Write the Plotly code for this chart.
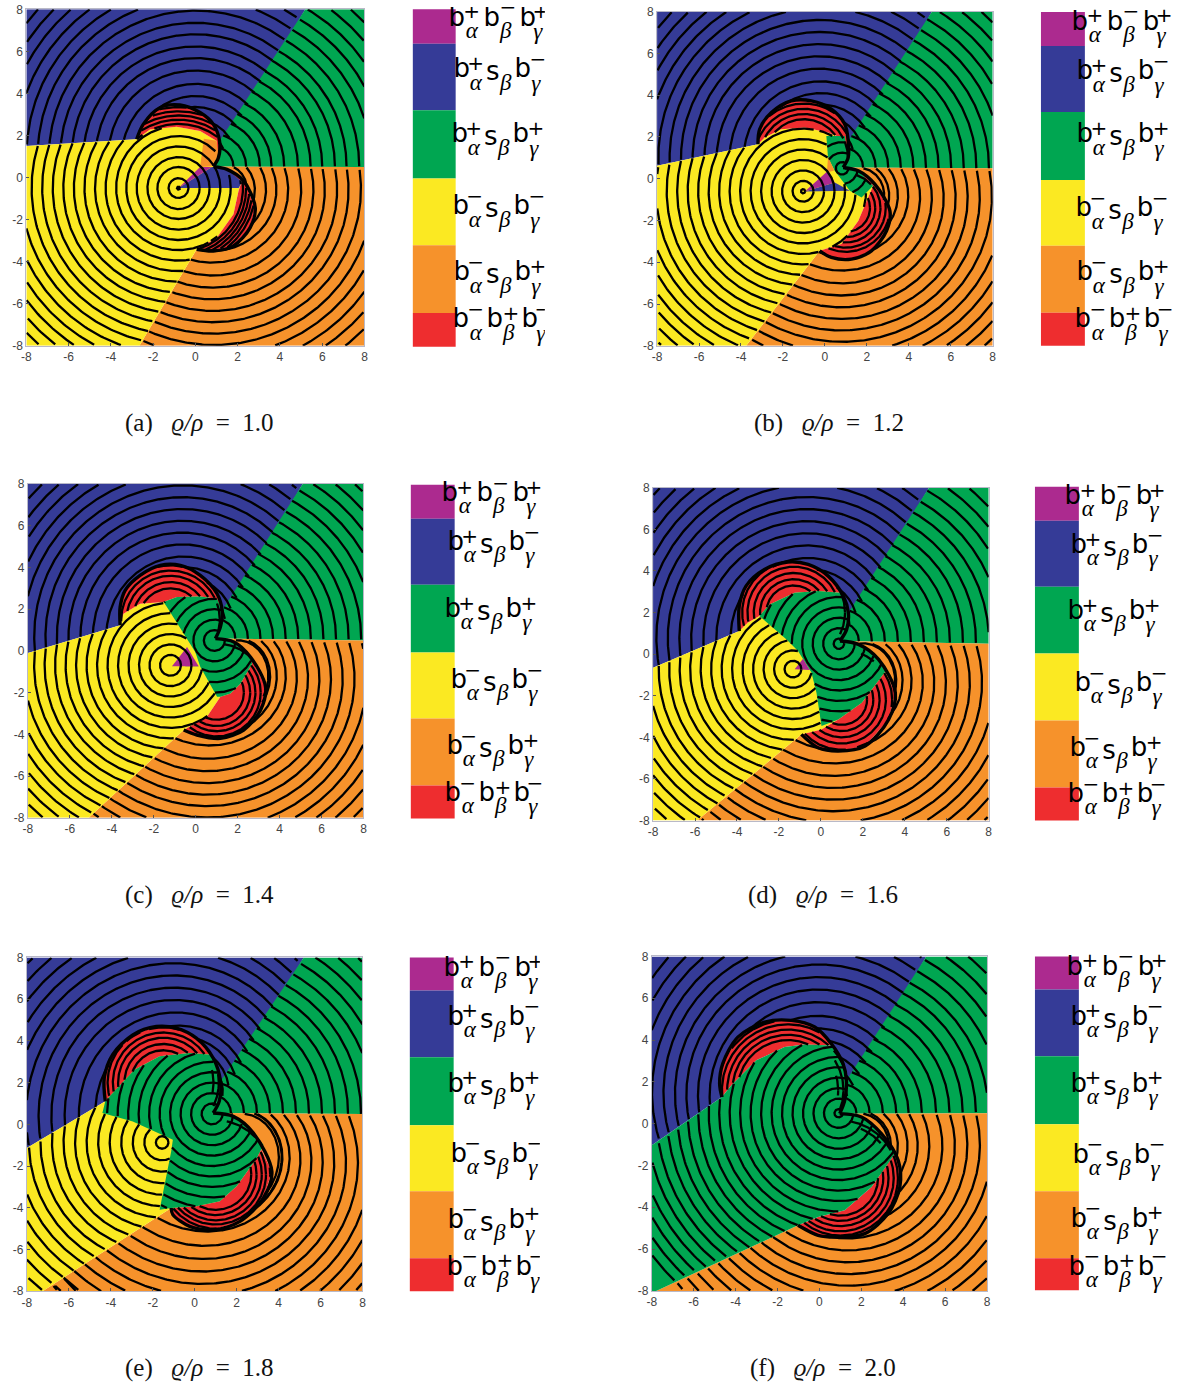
import numpy as np
import plotly.graph_objects as go

W, H = 1186, 1386
TICKS = [-8, -6, -4, -2, 0, 2, 4, 6, 8]
TICK_TEXT = ["-8", "-6", "-4", "-2", "0", "2", "4", "6", "8"]
COLORS = dict(purple="#AC2A8F", blue="#353B97", green="#00A651", yellow="#FBE922", orange="#F6922B", red="#EE2D2F")
BAND_COLORS = ["purple", "blue", "green", "yellow", "orange", "red"]
CAPTIONS = ["(a)", "(b)", "(c)", "(d)", "(e)", "(f)"]
RATIOS = ["1.0", "1.2", "1.4", "1.6", "1.8", "2.0"]
LABEL_KINDS = ["bbb", "sm", "sp", "sm2", "sp2", "bbb2"]

# ---- panel (a) ----
A_CUSP = (0.85, 0.52)
A_TOP_OUT = [(0.85,0.52),(1.09,0.95),(1.14,1.74),(0.85,2.53),(0.22,3.09),(-0.73,3.45),(-1.68,3.32),(-2.47,2.53),(-2.78,1.82)]
A_TOP_IN = [(-2.78,1.82),(-2.15,2.29),(-0.89,2.41),(0.22,2.21),(1.01,1.74)]
A_BOT_OUT = [(0.85,0.52),(1.49,0.39),(2.28,-0.16),(2.83,-1.43),(2.59,-2.38),(1.8,-3.25),(0.85,-3.49),(0.06,-3.41)]
A_BOT_IN = [(0.06,-3.41),(1.01,-2.86),(1.8,-1.75),(2.04,-0.64),(2.2,-0.16)]
A_GREEN_IN = []
A_LEFT_Y, A_DIAG_X, A_BOTTOM_X = 1.5, 5.2, -2.65
A_FAR_C = (-0.8, -0.5)
A_FAR_R = [0.07,0.47,1.0,1.47,1.98,2.47,2.95,3.45,3.95,4.45,4.95,5.45,5.95,6.45,6.95,7.45,7.95,8.45,8.95,9.45,9.95,10.45,10.95]
A_OUT_R = [0.95,1.55,2.2,2.75,3.35,4.0,4.6,5.15,5.75,6.3,6.9,7.5,8.1,8.7,9.3,9.9,10.5,11.1,11.7]
A_BLUE_C, A_ORANGE_C = (-0.1, 0.9), (1.1, -0.3)
A_SHIFT = (3, 3)
A_CAPT = (-0.8, -0.5, [3.05,3.25,3.45,3.65,3.85])
A_CAPB = (-0.8, -0.5, [3.05,3.2,3.35,3.5,3.65])
A_PURPLE = [(-0.8,-0.5),(0.22,0.5),(0.78,0.5)]
A_TRI = [(-0.8,-0.5),(0.78,0.5),(1.0,0.5),(1.5,0.4),(2.2,-0.2),(2.05,-0.5)]
A_WEDGE = [(0.22,0.5),(0.95,0.55),(1.1,1.0),(1.0,1.75),(0.4,1.85)]
A_INNER_R = []

# ---- panel (b) ----
B_CUSP = (0.87, 0.54)
B_TOP_OUT = [(0.87,0.54),(1.11,1.01),(1.11,1.81),(0.95,2.61),(0.31,3.33),(-0.64,3.73),(-1.6,3.73),(-2.55,3.17),(-3.11,2.37),(-3.19,1.65)]
B_TOP_IN = [(-3.19,1.65),(-2.87,1.97),(-2.08,2.37),(-0.96,2.45),(0.15,2.21),(0.95,1.89)]
B_BOT_OUT = [(0.87,0.54),(1.59,0.38),(2.38,-0.26),(3.1,-1.54),(2.94,-2.49),(2.22,-3.45),(1.27,-3.85),(0.31,-3.77),(-0.25,-3.45)]
B_BOT_IN = [(-0.25,-3.45),(0.79,-3.13),(1.59,-2.02),(2.06,-0.9),(2.3,-0.34)]
B_GREEN_IN = [(0.07,2.05),(0.95,2.05),(1.11,0.85),(0.87,0.54),(1.59,0.38),(2.3,-0.34),(1.75,-0.9),(1.19,-0.58),(0.47,0.38),(0.15,1.01)]
B_LEFT_Y, B_DIAG_X, B_BOTTOM_X = 0.62, 5.1, -3.75
B_FAR_C = (-1.04, -0.6)
B_FAR_R = [0.1,0.5,1.0,1.5,2.0,2.5,3.0,3.5,4.0,4.5,5.0,5.5,6.0,6.5,7.0,7.5,8.0,8.5,9.0,9.5,10.0,10.5]
B_OUT_R = [0.95,1.55,2.15,2.75,3.35,3.95,4.55,5.15,5.75,6.35,6.95,7.55,8.15,8.75,9.35,9.95,10.55,11.15,11.75]
B_BLUE_C, B_ORANGE_C = (-0.2, 1.0), (1.3, -0.4)
B_SHIFT = (3, 3)
B_CAPT = (-1.0, 1.0, [1.85,2.1,2.35,2.6,2.8])
B_CAPB = (1.0, -1.4, [1.15,1.4,1.65,1.9,2.1])
B_PURPLE = [(-0.96,-0.61),(0.15,0.38),(0.47,-0.18)]
B_TRI = [(-0.96,-0.61),(0.47,-0.18),(1.19,-0.58)]
B_WEDGE = [(0.15,1.05),(0.45,0.4),(0.1,0.3)]
B_INNER_R = [0.3,0.75,1.25,1.75,2.25]

# ---- panel (c) ----
C_CUSP = (0.94, 0.59)
C_TOP_OUT = [(0.94,0.59),(1.18,1.15),(1.26,1.94),(1.02,2.74),(0.22,3.62),(-0.73,4.1),(-1.69,4.1),(-2.65,3.62),(-3.36,2.9),(-3.6,2.1),(-3.6,1.23)]
C_TOP_IN = [(-3.6,1.23),(-3.44,1.78),(-2.65,2.26),(-1.53,2.34),(-0.89,2.58),(0.22,2.61),(1.02,2.5)]
C_BOT_OUT = [(0.94,0.59),(1.82,0.43),(2.61,-0.29),(3.33,-1.72),(3.09,-2.84),(2.29,-3.79),(1.18,-4.19),(0.06,-4.03),(-0.57,-3.79)]
C_BOT_IN = [(-0.57,-3.79),(0.54,-3.16),(1.18,-2.2),(1.66,-2.04),(2.14,-1.56),(2.69,-0.61)]
C_GREEN_IN = [(-1.53,2.34),(-0.89,2.58),(0.22,2.61),(1.02,2.5),(1.26,1.94),(1.18,1.15),(0.94,0.59),(1.82,0.43),(2.61,-0.29),(2.69,-0.61),(2.14,-1.56),(1.66,-2.04),(1.18,-2.2),(1.02,-2.2),(0.22,-0.76),(-0.02,-0.05),(-1.37,2.1)]
C_LEFT_Y, C_DIAG_X, C_BOTTOM_X = -0.1, 5.1, -5.1
C_FAR_C = (-1.2, -0.69)
C_FAR_R = [0.5,1.0,1.5,2.0,2.5,3.0,3.5,4.0,4.5,5.0,5.5,6.0,6.5,7.0,7.5,8.0,8.5,9.0,9.5,10.0,10.5]
C_OUT_R = [0.95,1.55,2.15,2.75,3.35,3.95,4.55,5.15,5.75,6.35,6.95,7.55,8.15,8.75,9.35,9.95,10.55,11.15,11.75]
C_BLUE_C, C_ORANGE_C = (-0.3, 1.0), (1.4, -0.5)
C_SHIFT = (3, 3)
C_CAPT = (-1.2, 1.5, [1.5,1.8,2.1,2.35,2.6])
C_CAPB = (1.0, -2.0, [1.3,1.6,1.85,2.1,2.35])
C_PURPLE = [(-1.13,-0.73),(-0.41,0.19),(0.14,-0.73)]
C_TRI = [(-0.3,-0.35),(0.14,-0.73),(-0.5,-0.73)]
C_WEDGE = []
C_INNER_R = [0.5,1.0,1.5,2.0,2.5,3.0]

# ---- panel (d) ----
D_CUSP = (0.91, 0.63)
D_TOP_OUT = [(0.91,0.63),(1.23,1.19),(1.31,1.99),(1.07,2.79),(0.35,3.75),(-0.61,4.31),(-1.57,4.43),(-2.69,4.07),(-3.57,3.27),(-3.89,2.31),(-3.89,1.11)]
D_TOP_IN = [(-3.89,1.11),(-3.49,1.51),(-2.93,1.83),(-2.45,2.39),(-1.25,2.95),(-0.13,3.03),(0.91,2.95)]
D_BOT_OUT = [(0.91,0.63),(1.79,0.47),(2.75,-0.25),(3.55,-1.86),(3.23,-3.14),(2.11,-4.42),(0.83,-4.66),(-0.13,-4.5),(-0.93,-3.86)]
D_BOT_IN = [(-0.93,-3.86),(0.03,-3.62),(0.83,-3.14),(1.95,-2.34),(2.67,-1.38),(3.15,-0.73)]
D_GREEN_IN = [(-2.93,1.83),(-2.45,2.39),(-1.25,2.95),(-0.13,3.03),(0.91,2.95),(1.07,2.79),(1.31,1.99),(1.23,1.19),(0.91,0.63),(1.79,0.47),(2.75,-0.25),(3.15,-0.73),(2.67,-1.38),(1.95,-2.34),(0.83,-3.14),(0.03,-3.46),(-0.21,-1.86),(-0.45,-0.89),(-1.09,0.15),(-1.65,0.71)]
D_LEFT_Y, D_DIAG_X, D_BOTTOM_X = -0.65, 5.15, -5.9
D_FAR_C = (-1.33, -0.72)
D_FAR_R = [0.4,0.9,1.4,1.9,2.4,2.9,3.4,3.9,4.4,4.9,5.4,5.9,6.4,6.9,7.4,7.9,8.4,8.9,9.4,9.9,10.4]
D_OUT_R = [0.9,1.52,2.14,2.76,3.38,4.0,4.62,5.24,5.86,6.48,7.1,7.72,8.34,8.96,9.58,10.2,10.82,11.44,12.06]
D_BLUE_C, D_ORANGE_C = (-0.3, 1.1), (1.4, -0.6)
D_SHIFT = (3, 3)
D_CAPT = (-1.3, 2.0, [1.3,1.6,1.9,2.2,2.45])
D_CAPB = (1.0, -2.2, [1.2,1.5,1.8,2.1,2.4])
D_PURPLE = [(-1.25,-0.73),(-0.85,-0.22),(-0.53,-0.77)]
D_TRI = []
D_WEDGE = []
D_INNER_R = [0.25,0.75,1.25,1.75,2.25,2.75,3.25,3.75,4.25]

# ---- panel (e) ----
E_CUSP = (0.88, 0.54)
E_TOP_OUT = [(0.88,0.54),(1.17,1.1),(1.23,2.06),(0.88,3.18),(0.08,4.13),(-0.88,4.61),(-1.83,4.69),(-2.95,4.29),(-3.91,3.34),(-4.31,2.22),(-4.26,1.1)]
E_TOP_IN = [(-4.26,1.1),(-3.83,1.58),(-2.87,2.62),(-1.67,3.26),(-0.24,3.42),(0.8,3.34)]
E_BOT_OUT = [(0.88,0.54),(1.84,0.38),(2.8,-0.42),(3.68,-2.26),(3.28,-3.53),(2.16,-4.65),(0.88,-5.05),(-0.24,-4.89),(-1.04,-4.33),(-1.12,-4.01)]
E_BOT_IN = [(-1.12,-4.01),(0.08,-3.93),(1.2,-3.69),(2.0,-2.97),(2.96,-1.62),(3.28,-0.98)]
E_GREEN_IN = [(-4.4,0.54),(-4.26,1.1),(-3.83,1.58),(-2.87,2.62),(-1.67,3.26),(-0.24,3.42),(0.8,3.34),(0.88,3.18),(1.23,2.06),(1.17,1.1),(0.88,0.54),(1.84,0.38),(2.8,-0.42),(3.28,-0.98),(2.96,-1.62),(2.0,-2.97),(1.2,-3.69),(0.08,-3.93),(-1.12,-4.01),(-1.67,-4.09),(-1.12,-1.3),(-1.04,-0.74),(-2.95,0.14)]
E_LEFT_Y, E_DIAG_X, E_BOTTOM_X = -1.14, 5.2, -7.25
E_FAR_C = (-1.55, -0.87)
E_FAR_R = [0.3,0.85,1.4,1.95,2.5,3.05,3.6,4.15,4.7,5.25,5.8,6.35,6.9,7.45,8.0,8.55,9.1,9.65,10.2]
E_OUT_R = [0.85,1.47,2.09,2.71,3.33,3.95,4.57,5.19,5.81,6.43,7.05,7.67,8.29,8.91,9.53,10.15,10.77,11.39,12.01]
E_BLUE_C, E_ORANGE_C = (-0.3, 1.1), (1.5, -0.7)
E_SHIFT = (3, 3)
E_CAPT = (-1.5, 2.0, [1.55,1.85,2.15,2.4,2.65])
E_CAPB = (1.0, -2.4, [1.7,1.95,2.2,2.4,2.6])
E_PURPLE = []
E_TRI = []
E_WEDGE = []
E_INNER_R = [0.5,1.0,1.5,2.0,2.5,3.0,3.5,4.0,4.5,5.0,5.5,6.0]

# ---- panel (f) ----
F_CUSP = (0.97, 0.48)
F_TOP_OUT = [(0.97,0.48),(1.21,1.12),(1.29,2.07),(1.13,2.87),(0.57,3.82),(-0.22,4.62),(-1.34,4.94),(-2.61,4.86),(-3.89,4.14),(-4.61,2.87),(-4.76,1.91),(-4.65,1.27)]
F_TOP_IN = [(-4.65,1.27),(-4.21,1.83),(-3.01,3.03),(-1.66,3.67),(-0.7,3.79),(0.65,3.74)]
F_BOT_OUT = [(0.97,0.48),(2.01,0.32),(2.96,-0.48),(3.76,-1.75),(3.84,-3.03),(3.28,-4.3),(2.17,-5.26),(0.89,-5.42),(-0.06,-5.34),(-1.02,-4.86)]
F_BOT_IN = [(-1.02,-4.86),(-0.06,-4.46),(1.21,-4.14),(2.49,-3.03),(3.28,-1.91),(3.6,-1.43)]
F_GREEN_IN = [(-8,-1.03),(-4.65,1.27),(-4.21,1.83),(-3.01,3.03),(-1.66,3.67),(-0.7,3.79),(0.65,3.74),(1.13,2.87),(1.29,2.07),(1.21,1.12),(0.97,0.48),(2.01,0.32),(2.96,-0.48),(3.6,-1.43),(3.28,-1.91),(2.49,-3.03),(1.21,-4.14),(-0.06,-4.46),(-1.02,-4.86),(-7.79,-8),(-8,-8)]
F_LEFT_Y, F_DIAG_X, F_BOTTOM_X = -1.03, 5.1, -7.79
F_FAR_C = None
F_FAR_R = [0.2,0.7,1.2,1.7,2.2,2.7,3.2,3.7,4.2,4.7,5.2,5.7,6.2,6.7,7.2,7.7,8.2,8.7,9.2,9.7,10.2,10.7,11.2]
F_OUT_R = [0.8,1.43,2.06,2.7,3.29,3.92,4.6,5.24,5.87,6.5,7.1,7.75,8.4,9.05,9.7,10.35,11.0,11.65,12.3]
F_BLUE_C, F_ORANGE_C = (-0.3, 1.1), (1.6, -0.8)
F_SHIFT = (5, 5)
F_CAPT = (-1.5, 1.6, [2.4,2.65,2.9,3.15,3.35])
F_CAPB = (1.0, -2.6, [1.8,2.05,2.3,2.55,2.75])
F_PURPLE = []
F_TRI = []
F_WEDGE = []
F_INNER_R = F_FAR_R

# ---- frames, colour bands and labels ----
FRAMES = [(26.5,364,8.3,345),(656,991,10.7,345),(28,363,483.3,817.3),(652,987,487,820),(27,362,957,1291),(650.7,985.3,956,1290.7)]
BAR_X = [(412,455),(1039,1083),(410,454),(1033,1077),(409,453),(1033,1077)]
LABEL_CLIP = [544,1176,544,1170,539,1170]
BAND_EDGES = [[8.3,42.7,109.3,177.7,244.3,312.3,346],[11,45,111,179,245,312,345],[484,518,584,652,718,785,818],
              [486,520,586,653,720,787,820],[957,990,1057,1125,1191,1258,1291],[956,989,1056,1124,1191,1258,1290]]
LABEL_X = [[448,453,451,452,453,452],[1070,1075,1075,1074,1075,1073],[441,447,444,450,446,444],
           [1063,1069,1066,1073,1068,1066],[443,447,447,450,447,446],[1065,1069,1069,1071,1069,1067]]
LABEL_Y = [[18,70,135,207,273,320],[22,72,135,209,273,320],[494,543,610,681,747,794],
           [497,546,612,684,749,795],[969,1018,1085,1155,1221,1268],[968,1018,1085,1156,1220,1268]]
CAPTION_X = [199,828,199,822,199,822]
CAPTION_Y = [422,422,895,895,1368,1368]
# the page is photographed slightly reduced and offset: scale and offset seen in the picture
PAGE_SCALE, PAGE_DX, PAGE_DY = 0.9905, 5.2, 6.0

# glyph offsets of the label formulas: (text, dx, dy, role)
GLYPHS = {
 "bbb": [("b",8,0,"m"),("+",23,-6,"u"),("α",23,13,"g"),("b",43,0,"m"),("−",59,-10,"u"),("β",57,13,"g"),("b",79,0,"m"),("+",92,-6,"u"),("γ",89,14,"g")],
 "sm":  [("b",8,0,"m"),("+",22,-6,"u"),("α",22,13,"g"),("s",39,3,"m"),("β",52,13,"g"),("b",69,0,"m"),("−",84,-10,"u"),("γ",82,14,"g")],
 "sp":  [("b",8,0,"m"),("+",22,-6,"u"),("α",22,13,"g"),("s",39,3,"m"),("β",52,13,"g"),("b",69,0,"m"),("+",84,-6,"u"),("γ",82,14,"g")],
 "sm2": [("b",8,0,"m"),("−",22,-10,"u"),("α",22,13,"g"),("s",39,3,"m"),("β",52,13,"g"),("b",69,0,"m"),("−",84,-10,"u"),("γ",82,14,"g")],
 "sp2": [("b",8,0,"m"),("−",22,-10,"u"),("α",22,13,"g"),("s",39,3,"m"),("β",52,13,"g"),("b",69,0,"m"),("+",84,-6,"u"),("γ",82,14,"g")],
 "bbb2":[("b",8,0,"m"),("−",23,-10,"u"),("α",23,13,"g"),("b",42,0,"m"),("+",58,-6,"u"),("β",56,13,"g"),("b",77,0,"m"),("−",90,-10,"u"),("γ",88,14,"g")],
}
ROLE_FONT = {"m": ("DejaVu Sans", 26), "u": ("DejaVu Sans", 20), "g": ("Liberation Serif", 23)}

PANELS = [
 dict(cusp=A_CUSP,to=A_TOP_OUT,ti=A_TOP_IN,bo=A_BOT_OUT,bi=A_BOT_IN,gi=A_GREEN_IN,ly=A_LEFT_Y,dx=A_DIAG_X,bx=A_BOTTOM_X,fc=A_FAR_C,fr=A_FAR_R,orr=A_OUT_R,bc=A_BLUE_C,oc=A_ORANGE_C,sh=A_SHIFT,ct=A_CAPT,cb=A_CAPB,pu=A_PURPLE,tr=A_TRI,we=A_WEDGE,ir=A_INNER_R),
 dict(cusp=B_CUSP,to=B_TOP_OUT,ti=B_TOP_IN,bo=B_BOT_OUT,bi=B_BOT_IN,gi=B_GREEN_IN,ly=B_LEFT_Y,dx=B_DIAG_X,bx=B_BOTTOM_X,fc=B_FAR_C,fr=B_FAR_R,orr=B_OUT_R,bc=B_BLUE_C,oc=B_ORANGE_C,sh=B_SHIFT,ct=B_CAPT,cb=B_CAPB,pu=B_PURPLE,tr=B_TRI,we=B_WEDGE,ir=B_INNER_R),
 dict(cusp=C_CUSP,to=C_TOP_OUT,ti=C_TOP_IN,bo=C_BOT_OUT,bi=C_BOT_IN,gi=C_GREEN_IN,ly=C_LEFT_Y,dx=C_DIAG_X,bx=C_BOTTOM_X,fc=C_FAR_C,fr=C_FAR_R,orr=C_OUT_R,bc=C_BLUE_C,oc=C_ORANGE_C,sh=C_SHIFT,ct=C_CAPT,cb=C_CAPB,pu=C_PURPLE,tr=C_TRI,we=C_WEDGE,ir=C_INNER_R),
 dict(cusp=D_CUSP,to=D_TOP_OUT,ti=D_TOP_IN,bo=D_BOT_OUT,bi=D_BOT_IN,gi=D_GREEN_IN,ly=D_LEFT_Y,dx=D_DIAG_X,bx=D_BOTTOM_X,fc=D_FAR_C,fr=D_FAR_R,orr=D_OUT_R,bc=D_BLUE_C,oc=D_ORANGE_C,sh=D_SHIFT,ct=D_CAPT,cb=D_CAPB,pu=D_PURPLE,tr=D_TRI,we=D_WEDGE,ir=D_INNER_R),
 dict(cusp=E_CUSP,to=E_TOP_OUT,ti=E_TOP_IN,bo=E_BOT_OUT,bi=E_BOT_IN,gi=E_GREEN_IN,ly=E_LEFT_Y,dx=E_DIAG_X,bx=E_BOTTOM_X,fc=E_FAR_C,fr=E_FAR_R,orr=E_OUT_R,bc=E_BLUE_C,oc=E_ORANGE_C,sh=E_SHIFT,ct=E_CAPT,cb=E_CAPB,pu=E_PURPLE,tr=E_TRI,we=E_WEDGE,ir=E_INNER_R),
 dict(cusp=F_CUSP,to=F_TOP_OUT,ti=F_TOP_IN,bo=F_BOT_OUT,bi=F_BOT_IN,gi=F_GREEN_IN,ly=F_LEFT_Y,dx=F_DIAG_X,bx=F_BOTTOM_X,fc=F_FAR_C,fr=F_FAR_R,orr=F_OUT_R,bc=F_BLUE_C,oc=F_ORANGE_C,sh=F_SHIFT,ct=F_CAPT,cb=F_CAPB,pu=F_PURPLE,tr=F_TRI,we=F_WEDGE,ir=F_INNER_R),
]

def inside(x, y, poly):
    p = np.array(poly, float)
    xa, ya = p[:, 0], p[:, 1]
    xb, yb = np.roll(xa, -1), np.roll(ya, -1)
    hit = np.zeros(x.shape, bool)
    for x0, y0, x1, y1 in zip(xa, ya, xb, yb):
        if y0 == y1:
            continue
        cross = ((y0 > y) != (y1 > y)) & (x < (x1 - x0) * (y - y0) / (y1 - y0) + x0)
        hit ^= cross
    return hit

def arc(cx, cy, rho0, th0, b, t0, t1, n=260):
    th = np.linspace(t0, t1, n)
    rho = rho0 + b * (th - th0)
    rho = np.where(rho > 0, rho, np.nan)
    return cx + rho * np.cos(th), cy + rho * np.sin(th)

def clip(x, y, polys, exclude=None):
    keep = np.zeros(x.shape, bool)
    ok = np.isfinite(x)
    xs, ys = np.where(ok, x, 99.0), np.where(ok, y, 99.0)
    for poly in polys:
        keep |= inside(xs, ys, poly)
    if exclude:
        keep &= ~inside(xs, ys, exclude)
    keep &= ok & (np.abs(xs) <= 8.05) & (np.abs(ys) <= 8.05)
    out = np.where(keep)[0]
    if out.size == 0:
        return [], []
    groups = np.split(out, np.where(np.diff(out) > 1)[0] + 1)
    ox, oy = [], []
    for g in groups:
        ox += [float(v) for v in np.round(x[g], 3)] + [None]
        oy += [float(v) for v in np.round(y[g], 3)] + [None]
    return ox, oy

def line_circle(inner, outer, c, r):
    a = np.array(inner, float)
    d = np.array(outer, float) - a
    f = a - np.array(c, float)
    A, B, C = d @ d, 2 * f @ d, f @ f - r * r
    disc = B * B - 4 * A * C
    if disc < 0:
        return None
    t = (-B + np.sqrt(disc)) / (2 * A)
    return None if t < 0 else a + t * d

def until_blob(x, y, blob):
    """Cut a traced front where it first enters the region behind the switching curves."""
    xx, yy = np.where(np.isfinite(x), x, 99.0), np.where(np.isfinite(y), y, 99.0)
    hits = np.where(inside(xx, yy, blob))[0]
    if hits.size:
        x, y = x.copy(), y.copy()
        x[hits[0]:] = np.nan
        y[hits[0]:] = np.nan
        return x, y, True
    return x, y, False

def spirals(centre, anchors, fc, fr, shift, border, direction, polys, blob):
    """Fronts joining a ring about the cusp to a ring about the far centre.
    Each is traced from the cusp side; a front stopped by the switching curve is also traced from the far side."""
    cx, cy = centre
    xs, ys = [], []
    last_b = 0.0
    for i in range(len(anchors) - 1, -1, -1):
        P, _ = anchors[i]
        th_p = np.arctan2(P[1] - cy, P[0] - cx)
        rho_p = np.hypot(P[0] - cx, P[1] - cy)
        j = i + shift
        Q = line_circle(border[0], border[1], fc, fr[j]) if 0 <= j < len(fr) else None
        if Q is not None:
            th_q = np.arctan2(Q[1] - cy, Q[0] - cx)
            dth = (th_q - th_p) % (2 * np.pi)
            if direction < 0:
                dth -= 2 * np.pi
            last_b = (np.hypot(Q[0] - cx, Q[1] - cy) - rho_p) / dth
        else:
            dth = direction * 2.6
        th_end = th_p + dth
        x, y = arc(cx, cy, rho_p, th_p, last_b, th_p + direction * 0.02, th_end + direction * 0.3)
        x, y, stopped = until_blob(x, y, blob)
        ox, oy = clip(x, y, polys); xs += ox; ys += oy
        if Q is not None and stopped:
            x, y = arc(cx, cy, rho_p, th_p, last_b, th_end + direction * 0.3, th_p)
            x, y, _ = until_blob(x, y, blob)
            ox, oy = clip(x, y, polys); xs += ox; ys += oy
    return xs, ys

fig = go.Figure()
layout = {}

def dom(frame):
    x0, x1, y0, y1 = frame
    ax0, ax1 = (x0 - PAGE_DX) / PAGE_SCALE, (x1 - PAGE_DX) / PAGE_SCALE
    ay0, ay1 = (y0 - PAGE_DY) / PAGE_SCALE, (y1 - PAGE_DY) / PAGE_SCALE
    return [max(ax0, 0) / W, min(ax1, W) / W], [max(1 - ay1 / H, 0), min(1 - ay0 / H, 1)]

for i, p in enumerate(PANELS):
    ax = 2 * i + 1
    xn, yn = f"x{ax}", f"y{ax}"
    dx_, dy_ = dom(FRAMES[i])
    axis = dict(range=[-8, 8], tickvals=TICKS, ticktext=TICK_TEXT, ticks="inside", ticklen=3, tickcolor="#555", showgrid=False, zeroline=False,
                showline=True, linecolor="#b9b9c8", linewidth=1, mirror=True,
                tickfont=dict(family="Liberation Sans", size=12, color="#444"))
    layout[f"xaxis{ax}"] = dict(axis, domain=dx_, anchor=yn)
    layout[f"yaxis{ax}"] = dict(axis, domain=dy_, anchor=xn)

    to, ti, bo, bi, gi = p["to"], p["ti"], p["bo"], p["bi"], p["gi"]
    blue = [(-8, p["ly"]), (-8, 8), (p["dx"], 8)] + to[1:]
    green = [(p["dx"], 8), (8, 8), (8, 0.5), p["cusp"]] + to[1:3]
    orange = [(8, 0.5), (8, -8), (p["bx"], -8)] + bo[::-1]
    yellow = [(-8, p["ly"])] + ti + [p["cusp"]] + bi[::-1] + [(p["bx"], -8), (-8, -8)]
    cap_t = to + ti[1:]
    cap_b = bo + bi[1:]
    blob = to + bo[::-1]

    def fill(poly, color):
        if not poly:
            return
        fig.add_trace(go.Scatter(x=[q[0] for q in poly] + [poly[0][0]], y=[q[1] for q in poly] + [poly[0][1]], mode="lines",
                                 fill="toself", fillcolor=COLORS[color], line=dict(width=0, color=COLORS[color]),
                                 hoverinfo="skip", showlegend=False, xaxis=xn, yaxis=yn))
    fill(blue, "blue"); fill(green, "green"); fill(orange, "orange")
    if p["fc"]:
        fill(yellow, "yellow")
    fill(cap_t, "red"); fill(cap_b, "red")
    fill(gi, "green")
    fill(p["we"], "orange"); fill(p["tr"], "blue"); fill(p["pu"], "purple")

    xs, ys = [], []
    cusp = p["cusp"]
    # fronts round the cusp in the outer green sector
    for r in p["orr"]:
        x, y = arc(cusp[0], cusp[1], r, 0, 0, -0.2, 1.9)
        ox, oy = clip(x, y, [green]); xs += ox; ys += oy
    # fronts of the inner sheets
    fc = p["fc"] if p["fc"] else cusp
    if p["fc"]:
        for r in p["fr"]:
            x, y = arc(fc[0], fc[1], r, 0, 0, 0, 2 * np.pi, 400)
            ox, oy = clip(x, y, [yellow], gi if gi else None); xs += ox; ys += oy
    if gi:
        for r in p["ir"]:
            x, y = arc(cusp[0] - 0.05, 0.5, r, 0, 0, 0, 2 * np.pi, 400)
            ox, oy = clip(x, y, [gi]); xs += ox; ys += oy
    # spiral fronts in blue and orange
    diag = np.arctan2(8 - cusp[1], p["dx"] - cusp[0])
    anchors_b = [((cusp[0] + r * np.cos(diag), cusp[1] + r * np.sin(diag)), r) for r in p["orr"]]
    anchors_o = [((cusp[0] + r, 0.5), r) for r in p["orr"]]
    ox, oy = spirals(p["bc"], anchors_b, fc, p["fr"], p["sh"][0], (to[-1], (-8, p["ly"])), 1, [blue], blob); xs += ox; ys += oy
    ox, oy = spirals(p["oc"], anchors_o, fc, p["fr"], p["sh"][1], (bo[-1], (p["bx"], -8)), -1, [orange], blob); xs += ox; ys += oy
    # fronts inside the red caps
    for (cx, cy, rs), poly in ((p["ct"], cap_t), (p["cb"], cap_b)):
        for r in rs:
            x, y = arc(cx, cy, r, 0, 0, 0, 2 * np.pi, 300)
            ox, oy = clip(x, y, [poly]); xs += ox; ys += oy
    fig.add_trace(go.Scatter(x=xs, y=ys, mode="lines", line=dict(color="black", width=2.3), hoverinfo="skip", showlegend=False, xaxis=xn, yaxis=yn))
    # switching curves
    for curve in (to, bo):
        fig.add_trace(go.Scatter(x=[q[0] for q in curve], y=[q[1] for q in curve], mode="lines",
                                 line=dict(color="black", width=3.4, shape="spline", smoothing=0.9),
                                 hoverinfo="skip", showlegend=False, xaxis=xn, yaxis=yn))

    # colour key and its formulas
    ax2 = ax + 1
    xk, yk = f"x{ax2}", f"y{ax2}"
    bx0, bx1 = BAR_X[i]
    edges = BAND_EDGES[i]
    ktop, kbot = max(edges[0] - 8, 6.0), edges[-1] + 12
    dx2, dy2 = dom((bx0, LABEL_CLIP[i], ktop, kbot))
    hidden = dict(visible=False, showgrid=False, zeroline=False)
    layout[f"xaxis{ax2}"] = dict(hidden, domain=dx2, anchor=yk, range=[bx0, LABEL_CLIP[i]])
    layout[f"yaxis{ax2}"] = dict(hidden, domain=dy2, anchor=xk, range=[kbot, ktop])
    for k in range(6):
        fig.add_trace(go.Bar(x=[(bx0 + bx1) / 2], y=[edges[k + 1] - edges[k]], base=[edges[k]], width=[bx1 - bx0],
                             marker=dict(color=COLORS[BAND_COLORS[k]], line=dict(width=0)),
                             hoverinfo="skip", showlegend=False, xaxis=xk, yaxis=yk))
    for role, (family, size) in ROLE_FONT.items():
        tx, ty, tt = [], [], []
        for k, kind in enumerate(LABEL_KINDS):
            for text, ddx, ddy, r in GLYPHS[kind]:
                if r == role:
                    tx.append(LABEL_X[i][k] + ddx); ty.append(LABEL_Y[i][k] + ddy)
                    tt.append(f"<i>{text}</i>" if r == "g" else text)
        fig.add_trace(go.Scatter(x=tx, y=ty, text=tt, mode="text", textposition="middle center", cliponaxis=True,
                                 textfont=dict(family=family, size=size, color="black"), hoverinfo="skip",
                                 showlegend=False, xaxis=xk, yaxis=yk))

annotations = []
for i in range(6):
    annotations.append(dict(x=(CAPTION_X[i] - PAGE_DX) / PAGE_SCALE / W, y=1 - (CAPTION_Y[i] - PAGE_DY) / PAGE_SCALE / H, xref="paper", yref="paper", showarrow=False,
                            xanchor="center", yanchor="middle",
                            text=f"{CAPTIONS[i]}&nbsp;&nbsp;&nbsp;<i>ϱ/ρ</i>&nbsp;&nbsp;=&nbsp;&nbsp;{RATIOS[i]}",
                            font=dict(family="Liberation Serif", size=25, color="#111")))

fig.update_layout(width=W, height=H, margin=dict(l=0, r=0, t=0, b=0), paper_bgcolor="white", plot_bgcolor="white",
                  showlegend=False, barmode="overlay", annotations=annotations, **layout)
fig.write_html("out.html", config={"displayModeBar": False},
               post_script="document.body.style.margin='0';document.body.style.padding='0';document.documentElement.style.overflow='hidden';")
